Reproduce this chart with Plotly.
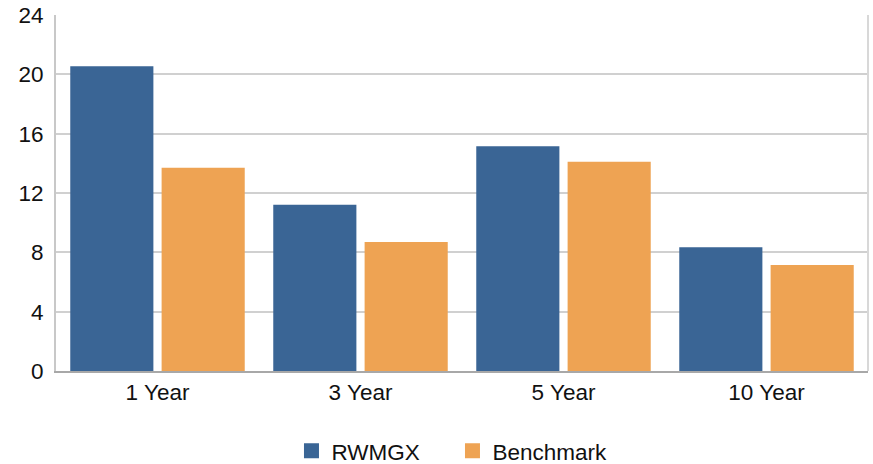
import plotly.graph_objects as go

categories = ["1 Year", "3 Year", "5 Year", "10 Year"]
rwmgx = [20.55, 11.2, 15.15, 8.35]
benchmark = [13.7, 8.7, 14.1, 7.15]
y_ticks = [0, 4, 8, 12, 16, 20, 24]

BLUE = "#3A6595"
ORANGE = "#EEA353"
FONT = "Liberation Sans, Arial, sans-serif"

fig = go.Figure()
fig.add_trace(go.Bar(x=categories, y=rwmgx, name="RWMGX", marker_color=BLUE,
                     marker_line_width=0, showlegend=False))
fig.add_trace(go.Bar(x=categories, y=benchmark, name="Benchmark", marker_color=ORANGE,
                     marker_line_width=0, showlegend=False))
# legend entries with square swatches
fig.add_trace(go.Scatter(x=[None], y=[None], mode="markers", name="RWMGX",
                         marker=dict(symbol="square", size=15, color=BLUE)))
fig.add_trace(go.Scatter(x=[None], y=[None], mode="markers", name="Benchmark",
                         marker=dict(symbol="square", size=15, color=ORANGE)))

fig.update_layout(
    width=873, height=464,
    margin=dict(l=56, r=5, t=15, b=93, autoexpand=False),
    paper_bgcolor="white", plot_bgcolor="white",
    font=dict(family=FONT, size=22.5, color="#111111"),
    barmode="group", bargap=0.1, bargroupgap=0.09,
    legend=dict(orientation="h", x=0.29, xanchor="left", y=-0.225, yanchor="middle",
                font=dict(size=22.5), entrywidth=116, itemwidth=30,
                bgcolor="rgba(0,0,0,0)"),
    xaxis=dict(showgrid=False, showline=True, linecolor="#A8A8A8", linewidth=2,
               ticks="", tickfont=dict(size=22.5), mirror=False, zeroline=False,
               automargin=False),
    yaxis=dict(range=[0, 24], tickvals=y_ticks, showgrid=True, gridcolor="#D0D0D0",
               gridwidth=1.5, showline=True, linecolor="#C8C8C8", linewidth=2,
               ticks="", ticklabelstandoff=6, zeroline=False,
               tickfont=dict(size=22.5), automargin=False),
)
# right border
fig.add_shape(type="line", xref="paper", yref="paper", x0=1, x1=1, y0=0, y1=1,
              line=dict(color="#D8D8D8", width=2))

fig.write_html("out.html", config={"displayModeBar": False},
               post_script="document.body.style.margin='0';")
